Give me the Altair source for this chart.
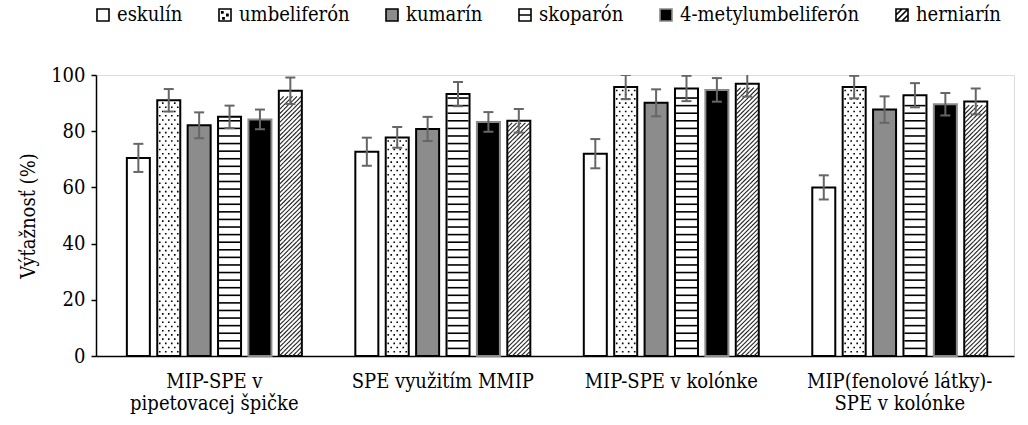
import altair as alt
import pandas as pd

# Metódy (kategórie osi x) a látky (série)
metody = [
    "MIP-SPE v\npipetovacej špičke",
    "SPE využitím MMIP",
    "MIP-SPE v kolónke",
    "MIP(fenolové látky)-\nSPE v kolónke",
]
latky = ["eskulín", "umbeliferón", "kumarín", "skoparón", "4-metylumbeliferón", "herniarín"]

# Výťažnosť (%) a smerodajné odchýlky pre každú látku v poradí metód
eskulin = [70.5, 72.7, 72.0, 60.0]
eskulin_sd = [5.0, 5.0, 5.2, 4.3]
umbeliferon = [91.0, 77.8, 95.7, 95.7]
umbeliferon_sd = [4.0, 3.7, 4.3, 4.0]
kumarin = [82.1, 80.8, 90.1, 87.7]
kumarin_sd = [4.6, 4.3, 4.8, 4.7]
skoparon = [85.1, 93.2, 95.2, 92.8]
skoparon_sd = [4.0, 4.3, 4.5, 4.3]
metylumbeliferon = [84.2, 83.3, 94.7, 89.6]
metylumbeliferon_sd = [3.5, 3.5, 4.2, 4.0]
herniarin = [94.4, 83.7, 96.9, 90.6]
herniarin_sd = [4.7, 4.2, 4.6, 4.6]

y_ticks = [0, 20, 40, 60, 80, 100]

hodnoty = [eskulin, umbeliferon, kumarin, skoparon, metylumbeliferon, herniarin]
odchylky = [eskulin_sd, umbeliferon_sd, kumarin_sd, skoparon_sd, metylumbeliferon_sd, herniarin_sd]

rows = []
for latka, vals, sds in zip(latky, hodnoty, odchylky):
    for metoda, v, s in zip(metody, vals, sds):
        rows.append({"metóda": metoda, "látka": latka, "hodnota": v,
                     "dolna": v - s, "horna": v + s, "stred": v / 2})
df = pd.DataFrame(rows)

PX_PER_UNIT = 281 / 100  # plot height / y range

# Horizontal stripe texture for skoparón
stripe_rows = []
for metoda, v in zip(metody, skoparon):
    k = 1
    while k * 2.7 < v - 1.0:
        stripe_rows.append({"metóda": metoda, "látka": "skoparón", "hodnota": k * 2.7})
        k += 1
df_stripes = pd.DataFrame(stripe_rows)

# Staggered dot texture for umbeliferón: one symbol per row of dots
dot_rows = []
for metoda, v in zip(metody, umbeliferon):
    i = 0
    while (i + 1) * 1.5 < v - 0.6:
        dot_rows.append({"metóda": metoda, "látka": "umbeliferón",
                         "hodnota": (i + 1) * 1.5, "rad": "a" if i % 2 == 0 else "b"})
        i += 1
df_dots = pd.DataFrame(dot_rows)

# Diagonal hatch texture for herniarín: one symbol per row of tiled segments
cell = 4.4
cell_u = cell / PX_PER_UNIT
hatch_rows = []
for metoda, v in zip(metody, herniarin):
    i = 0
    while (i + 1) * cell_u <= v - 0.5:
        hatch_rows.append({"metóda": metoda, "látka": "herniarín", "hodnota": (i + 0.5) * cell_u})
        i += 1
df_hatch = pd.DataFrame(hatch_rows)


def dot_row_path(centers_px, half_width_px, dot_px):
    """Row of tiny squares, normalised to the symbol's [-1, 1] box."""
    d = dot_px / half_width_px
    parts = []
    for c in centers_px:
        x0 = c / half_width_px - d / 2
        parts.append(f"M{x0:.4f},{-d / 2:.4f}h{d:.4f}v{d:.4f}h{-d:.4f}Z")
    return "".join(parts)


def hatch_row_path(centers_px, half_width_px, cell_px):
    """Row of diagonal segments, each spanning one cell corner to corner."""
    h = cell_px / 2 / half_width_px
    parts = []
    for c in centers_px:
        xc = c / half_width_px
        parts.append(f"M{xc - h:.4f},{h:.4f}L{xc + h:.4f},{-h:.4f}")
    return "".join(parts)


HALF = 11.0  # half width of a texture row in pixels
dot_path_a = dot_row_path([-9, -3, 3, 9], HALF, 1.6)
dot_path_b = dot_row_path([-6, 0, 6], HALF, 1.6)
hatch_path = hatch_row_path([-8.8, -4.4, 0, 4.4, 8.8], HALF, cell)

FONT = "DejaVu Serif Condensed"
FS = 20

fill_scale = alt.Scale(domain=latky,
                       range=["white", "white", "#8c8c8c", "white", "black", "white"])
stroke_scale = alt.Scale(domain=latky,
                         range=["black", "black", "black", "black", "#8a8a8a", "black"])
SQ = "M-1,-1H1V1H-1Z"
shape_scale = alt.Scale(domain=latky, range=[
    SQ,
    SQ + "M-0.55,-0.55h0.2v0.2h-0.2Z M0.3,-0.1h0.2v0.2h-0.2Z M-0.35,0.45h0.2v0.2h-0.2Z",
    SQ,
    SQ + "M-1,0H1",
    SQ,
    SQ + "M-1,0L0,-1M-1,1L1,-1M0,1L1,0",
])

x_enc = alt.X("metóda:N", sort=metody,
              scale=alt.Scale(paddingInner=0, paddingOuter=0.009, align=1),
              axis=alt.Axis(title=None, ticks=False, labelAngle=0, labelLimit=400,
                            labelExpr="split(datum.label, '\\n')",
                            labelFont=FONT, labelFontSize=FS, labelColor="black",
                            labelPadding=15, labelLineHeight=22,
                            domainColor="black", domainWidth=1.5))
xo_enc = alt.XOffset("látka:N", sort=latky,
                     scale=alt.Scale(domain=latky, paddingInner=0.243, paddingOuter=0.88))
y_axis = alt.Axis(title="Výťažnosť (%)", values=y_ticks, grid=False,
                  labelFont=FONT, labelFontSize=FS, labelColor="black", labelPadding=6,
                  titleFont=FONT, titleFontSize=FS, titleFontWeight="normal",
                  titleColor="black", titlePadding=12,
                  tickColor="black", tickSize=5, tickWidth=1.5,
                  domainColor="black", domainWidth=1.5)
y_scale = alt.Scale(domain=[0, 100], nice=False)


def y_field(name):
    return alt.Y(f"{name}:Q", scale=y_scale, axis=y_axis)


# Carrier for the legend (hidden inside the bars)
legend_layer = alt.Chart(df).mark_point(filled=True, size=60, opacity=1).encode(
    x=x_enc, xOffset=xo_enc, y=y_field("stred"),
    fill=alt.Fill("látka:N", scale=fill_scale, sort=latky,
                  legend=alt.Legend(title=None, orient="none", direction="horizontal",
                                    legendX=-3, legendY=-70, labelLimit=400,
                                    symbolSize=144, symbolStrokeWidth=1.6,
                                    labelFont=FONT, labelFontSize=FS, labelColor="black",
                                    labelOffset=4, columnPadding=32)),
    stroke=alt.Stroke("látka:N", scale=stroke_scale, sort=latky),
    shape=alt.Shape("látka:N", scale=shape_scale, sort=latky),
)

bars = alt.Chart(df).mark_bar(strokeWidth=2).encode(
    x=x_enc, xOffset=xo_enc, y=y_field("hodnota"),
    fill=alt.Fill("látka:N", scale=fill_scale, sort=latky, legend=None),
    stroke=alt.Stroke("látka:N", scale=stroke_scale, sort=latky, legend=None),
)

stripes = alt.Chart(df_stripes).mark_tick(orient="horizontal", size=21, thickness=1.6,
                                          color="black", opacity=1).encode(
    x=x_enc, xOffset=xo_enc, y=y_field("hodnota"))

dot_layers = [
    alt.Chart(df_dots).transform_filter(f"datum.rad == '{rad}'")
    .mark_point(shape=path, size=(2 * HALF) ** 2, filled=True, color="black",
                strokeWidth=0, opacity=1)
    .encode(x=x_enc, xOffset=xo_enc, y=y_field("hodnota"))
    for rad, path in [("a", dot_path_a), ("b", dot_path_b)]
]

hatch = alt.Chart(df_hatch).mark_point(shape=hatch_path, size=(2 * HALF) ** 2, filled=False,
                                       stroke="#222222", strokeWidth=1.1, opacity=1).encode(
    x=x_enc, xOffset=xo_enc, y=y_field("hodnota"))

err_rule = alt.Chart(df).mark_rule(color="#666666", strokeWidth=2, clip=True).encode(
    x=x_enc, xOffset=xo_enc, y=y_field("dolna"), y2="horna:Q")
err_top = alt.Chart(df).mark_tick(orient="horizontal", size=10, thickness=2,
                                  color="#666666", opacity=1, clip=True).encode(
    x=x_enc, xOffset=xo_enc, y=y_field("horna"))
err_bot = alt.Chart(df).mark_tick(orient="horizontal", size=10, thickness=2,
                                  color="#666666", opacity=1, clip=True).encode(
    x=x_enc, xOffset=xo_enc, y=y_field("dolna"))

chart = alt.layer(
    legend_layer, bars, stripes, *dot_layers, hatch, err_rule, err_top, err_bot
).properties(
    width=918, height=281,
    autosize=alt.AutoSizeParams(type="none"),
    padding={"left": 96, "top": 75, "right": 14, "bottom": 69},
).configure_view(stroke=None).configure(background="white")

chart.save("out.html", embed_options={"renderer": "svg", "actions": False})
